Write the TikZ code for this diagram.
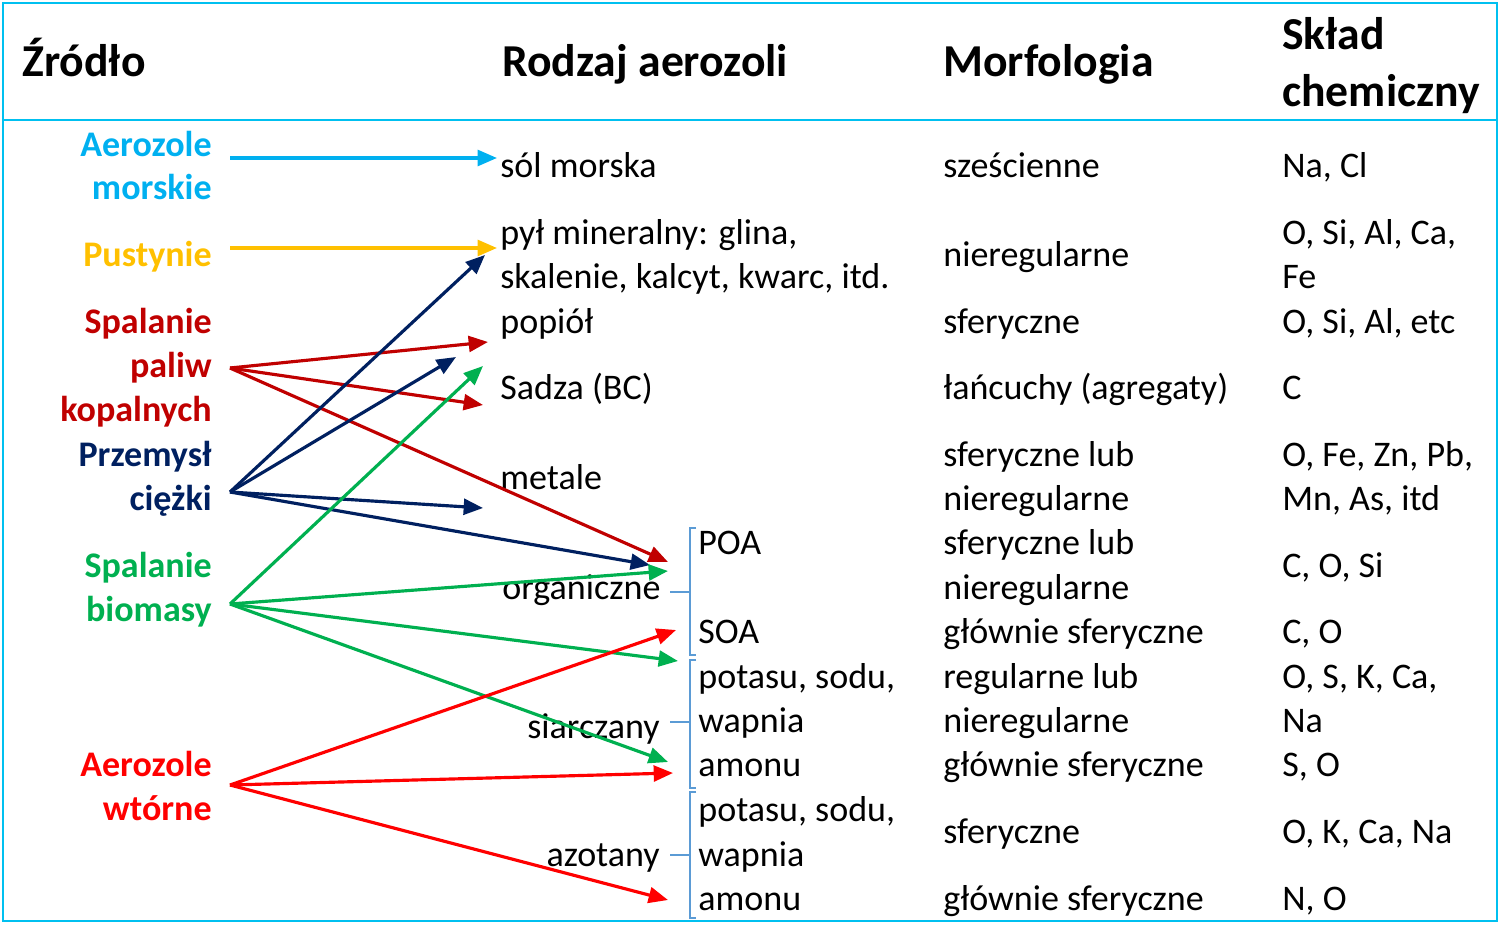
\documentclass[tikz,border=0pt]{standalone}
\usepackage{fontspec}
\setmainfont{Carlito}
\usetikzlibrary{arrows.meta}
\definecolor{cy}{HTML}{00B0F0}
\definecolor{fr}{HTML}{00C0F0}
\definecolor{or}{HTML}{FFC000}
\definecolor{dr}{HTML}{C00000}
\definecolor{nv}{HTML}{002060}
\definecolor{gr}{HTML}{00B050}
\definecolor{rd}{HTML}{FF0000}
\definecolor{br}{HTML}{5B9BD5}
\begin{document}
\begin{tikzpicture}[x=0.02cm,y=-0.02cm,
 t/.style={anchor=mid west,inner sep=0pt,font=\fontsize{20.5}{24}\selectfont},
 h/.style={anchor=mid west,inner sep=0pt,font=\fontsize{26}{30}\selectfont\bfseries},
 s/.style={anchor=mid east,inner sep=0pt,font=\fontsize{20.5}{24}\selectfont\bfseries},
 ar/.style={line width=1.8pt,-{Triangle[length=11pt,width=9pt]}},
 bk/.style={draw=br,line width=1pt}]
\useasboundingbox (0,0) rectangle (1500,926);
\draw[fr,line width=1.5pt] (3,3) rectangle (1497,921);
\draw[fr,line width=1.5pt] (3,120) -- (1497,120);
\begin{scope}[shift={(0,10)}]
\node[h] (h1) at (22,62) {Źródło};
\node[h] (h2) at (502,62) {Rodzaj aerozoli};
\node[h] (h3) at (943,62) {Morfologia};
\node[h] (h4a) at (1282,35) {Skład};
\node[h] (h4b) at (1282,92) {chemiczny};
\end{scope}
\begin{scope}[shift={(0,7)}]
% sources
\node[s,cy] (a1) at (212,145) {Aerozole};
\node[s,cy] (a2) at (212,188) {morskie};
\node[s,or] (b1) at (212,255) {Pustynie};
\node[s,dr] (c1) at (212,322) {Spalanie};
\node[s,dr] (c2) at (212,366) {paliw};
\node[s,dr] (c3) at (212,410) {kopalnych};
\node[s,nv] (d1) at (212,455) {Przemysł};
\node[s,nv] (d2) at (212,499) {ciężki};
\node[s,gr] (e1) at (212,566) {Spalanie};
\node[s,gr] (e2) at (212,610) {biomasy};
\node[s,rd] (f1) at (212,765) {Aerozole};
\node[s,rd] (f2) at (212,809) {wtórne};
% column 2
\node[t] (k1) at (500,166) {sól morska};
\node[t] (k2) at (500,233) {pył mineralny: glina,};
\node[t] (k3) at (500,277) {skalenie, kalcyt, kwarc, itd.};
\node[t] (k4) at (500,322) {popiół};
\node[t] (k5) at (500,388) {Sadza (BC)};
\node[t] (k6) at (500,478) {metale};
\node[t] (k7) at (502,588) {organiczne};
\node[t] (k8) at (698,543) {POA};
\node[t] (k9) at (698,632) {SOA};
\node[t,anchor=mid east] (k10) at (660,727) {siarczany};
\node[t] (k11) at (698,677) {potasu, sodu,};
\node[t] (k12) at (698,721) {wapnia};
\node[t] (k13) at (698,765) {amonu};
\node[t,anchor=mid east] (k14) at (660,855) {azotany};
\node[t] (k15) at (698,810) {potasu, sodu,};
\node[t] (k16) at (698,855) {wapnia};
\node[t] (k17) at (698,899) {amonu};
% column 3
\node[t] (m1) at (943,166) {sześcienne};
\node[t] (m2) at (943,255) {nieregularne};
\node[t] (m3) at (943,322) {sferyczne};
\node[t] (m4) at (943,388) {łańcuchy (agregaty)};
\node[t] (m5) at (943,455) {sferyczne lub};
\node[t] (m6) at (943,499) {nieregularne};
\node[t] (m7) at (943,543) {sferyczne lub};
\node[t] (m8) at (943,588) {nieregularne};
\node[t] (m9) at (943,632) {głównie sferyczne};
\node[t] (m10) at (943,677) {regularne lub};
\node[t] (m11) at (943,721) {nieregularne};
\node[t] (m12) at (943,765) {głównie sferyczne};
\node[t] (m13) at (943,832) {sferyczne};
\node[t] (m14) at (943,899) {głównie sferyczne};
% column 4
\node[t] (c41) at (1282,166) {Na, Cl};
\node[t] (c42) at (1282,233) {O, Si, Al, Ca,};
\node[t] (c43) at (1282,277) {Fe};
\node[t] (c44) at (1282,322) {O, Si, Al, etc};
\node[t] (c45) at (1282,388) {C};
\node[t] (c46) at (1282,455) {O, Fe, Zn, Pb,};
\node[t] (c47) at (1282,499) {Mn, As, itd};
\node[t] (c48) at (1282,566) {C, O, Si};
\node[t] (c49) at (1282,632) {C, O};
\node[t] (c410) at (1282,677) {O, S, K, Ca,};
\node[t] (c411) at (1282,721) {Na};
\node[t] (c412) at (1282,765) {S, O};
\node[t] (c413) at (1282,832) {O, K, Ca, Na};
\node[t] (c414) at (1282,899) {N, O};
\end{scope}
% brackets
\draw[bk] (696,528) -- (690,528) -- (690,655) -- (696,655);
\draw[bk] (690,592) -- (670,592);
\draw[bk] (696,660) -- (690,660) -- (690,788) -- (696,788);
\draw[bk] (690,722) -- (670,722);
\draw[bk] (696,792) -- (690,792) -- (690,918) -- (696,918);
\draw[bk] (690,855) -- (670,855);
% source points and targets
\coordinate (SA) at (230,158); \coordinate (SB) at (230,248);
\coordinate (SC) at (230,368); \coordinate (SD) at (230,492);
\coordinate (SE) at (230,604); \coordinate (SF) at (230,785);
\coordinate (tA) at (497,158); \coordinate (tB) at (497,248);
\coordinate (tC1) at (488,342); \coordinate (tC2) at (483,405); \coordinate (tC3) at (668,562);
\coordinate (tD1) at (485,255); \coordinate (tD2) at (456,357); \coordinate (tD3) at (483,508); \coordinate (tD4) at (650,565);
\coordinate (tE1) at (483,366); \coordinate (tE2) at (668,571); \coordinate (tE3) at (678,661); \coordinate (tE4) at (668,762);
\coordinate (tF1) at (676,630); \coordinate (tF2) at (673,773); \coordinate (tF3) at (668,900);
\draw[ar,cy] (SA) -- (tA);
\draw[ar,or] (SB) -- (tB);
\foreach \q in {tC1,tC2,tC3} \draw[ar,dr] (SC) -- (\q);
\foreach \q in {tD1,tD2,tD3,tD4} \draw[ar,nv] (SD) -- (\q);
\foreach \q in {tE1,tE2,tE3,tE4} \draw[ar,gr] (SE) -- (\q);
\foreach \q in {tF1,tF2,tF3} \draw[ar,rd] (SF) -- (\q);
\end{tikzpicture}
\end{document}
